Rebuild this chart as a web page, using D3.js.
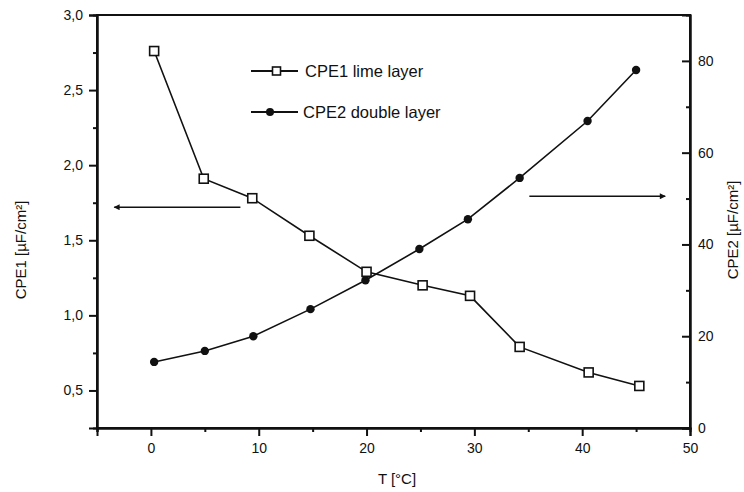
<!DOCTYPE html>
<head>
<style>
  body { margin: 0; background: #fff; }
  svg text { font-family: "Liberation Sans", Arial, sans-serif; fill: #111; }
  .axis path, .axis line { stroke: #111; }
</style>
</head>
<body>
<svg width="744" height="492"></svg>
<script src="https://d3js.org/d3.v7.min.js"></script>
<script>

// values
var tempCPE1 = [0.3, 4.9, 9.4, 14.7, 20.0, 25.2, 29.6, 34.2, 40.6, 45.3];
var cpe1 = [2.76, 1.91, 1.78, 1.53, 1.29, 1.20, 1.13, 0.79, 0.62, 0.53];
var tempCPE2 = [0.3, 5.0, 9.5, 14.8, 19.9, 24.9, 29.4, 34.2, 40.5, 45.0];
var cpe2 = [14.4, 16.8, 20.0, 25.9, 32.2, 39.0, 45.5, 54.5, 66.9, 78.0];

var xTicks = [0, 10, 20, 30, 40, 50];
var xMinor = [-5, 5, 15, 25, 35, 45];
var y1Ticks = [0.5, 1.0, 1.5, 2.0, 2.5, 3.0];
var y1Minor = [0.75, 1.25, 1.75, 2.25, 2.75];
var y2Ticks = [0, 20, 40, 60, 80];
var y2Minor = [10, 30, 50, 70];

var legendLabels = ["CPE1 lime layer", "CPE2 double layer"];

var svg = d3.select("svg");
var plotL = 97, plotR = 690, plotT = 15, plotB = 428;

var x = d3.scaleLinear().domain([-5, 50]).range([plotL, plotR]);
var y1 = d3.scaleLinear().domain([0.25, 3.0]).range([plotB, plotT]);
var y2 = d3.scaleLinear().domain([0, 90]).range([plotB, plotT]);

var comma = function(d) { return d3.format(".1f")(d).replace(".", ","); };

// frame
svg.append("rect")
    .attr("x", plotL).attr("y", plotT)
    .attr("width", plotR - plotL).attr("height", plotB - plotT)
    .attr("fill", "none").attr("stroke", "#111").attr("stroke-width", 2);

// x axis
svg.append("g").attr("class", "axis")
    .attr("transform", "translate(0," + plotB + ")")
    .call(d3.axisBottom(x).tickValues(xTicks).tickSize(8).tickPadding(7));
svg.append("g").attr("class", "axis")
    .attr("transform", "translate(0," + plotB + ")")
    .call(d3.axisBottom(x).tickValues(xMinor).tickSize(4).tickFormat(""));

// left axis
svg.append("g").attr("class", "axis")
    .attr("transform", "translate(" + plotL + ",0)")
    .call(d3.axisLeft(y1).tickValues(y1Ticks).tickSize(8).tickPadding(6).tickFormat(comma));
svg.append("g").attr("class", "axis")
    .attr("transform", "translate(" + plotL + ",0)")
    .call(d3.axisLeft(y1).tickValues(y1Minor).tickSize(4).tickFormat(""));

// right axis, ticks pointing inward
svg.append("g").attr("class", "axis")
    .attr("transform", "translate(" + plotR + ",0)")
    .call(d3.axisRight(y2).tickValues(y2Ticks).tickSize(-8).tickPadding(8));
svg.append("g").attr("class", "axis")
    .attr("transform", "translate(" + plotR + ",0)")
    .call(d3.axisRight(y2).tickValues(y2Minor).tickSize(-4).tickFormat(""));

svg.selectAll(".axis path").attr("stroke-width", 2).attr("stroke", "none");
svg.selectAll(".axis line").attr("stroke-width", 2);
svg.selectAll(".axis text").style("font-size", "14px").style("font-family", "'Liberation Sans', Arial, sans-serif").attr("fill", "#222");

// axis titles
svg.append("text")
    .attr("x", 397).attr("y", 484)
    .attr("text-anchor", "middle")
    .style("font-size", "15px")
    .text("T [°C]");
svg.append("text")
    .attr("transform", "translate(26,250) rotate(-90)")
    .attr("text-anchor", "middle")
    .style("font-size", "15px")
    .text("CPE1 [µF/cm²]");
svg.append("text")
    .attr("transform", "translate(738,230) rotate(-90)")
    .attr("text-anchor", "middle")
    .style("font-size", "15px")
    .text("CPE2 [µF/cm²]");

// data lines
var d1 = tempCPE1.map(function(t, i) { return [t, cpe1[i]]; });
var d2 = tempCPE2.map(function(t, i) { return [t, cpe2[i]]; });

svg.append("path")
    .datum(d2)
    .attr("fill", "none").attr("stroke", "#111").attr("stroke-width", 1.6)
    .attr("d", d3.line().x(function(d) { return x(d[0]); }).y(function(d) { return y2(d[1]); }));
svg.append("g").selectAll("circle")
    .data(d2)
    .enter().append("circle")
      .attr("cx", function(d) { return x(d[0]); })
      .attr("cy", function(d) { return y2(d[1]); })
      .attr("r", 4.2)
      .attr("fill", "#111");

svg.append("path")
    .datum(d1)
    .attr("fill", "none").attr("stroke", "#111").attr("stroke-width", 1.6)
    .attr("d", d3.line().x(function(d) { return x(d[0]); }).y(function(d) { return y1(d[1]); }));
svg.append("g").selectAll("rect")
    .data(d1)
    .enter().append("rect")
      .attr("x", function(d) { return x(d[0]) - 4.5; })
      .attr("y", function(d) { return y1(d[1]) - 4.5; })
      .attr("width", 9).attr("height", 9)
      .attr("fill", "#fff").attr("stroke", "#111").attr("stroke-width", 1.6);

// arrows pointing at the matching axis
svg.append("defs").append("marker")
    .attr("id", "head")
    .attr("viewBox", "0 0 10 10")
    .attr("refX", 9).attr("refY", 5)
    .attr("markerWidth", 10).attr("markerHeight", 6)
    .attr("markerUnits", "userSpaceOnUse")
    .attr("orient", "auto")
  .append("path")
    .attr("d", "M0,0L10,5L0,10Z")
    .attr("fill", "#111");

svg.append("line")
    .attr("x1", x(8.3)).attr("y1", y1(1.72))
    .attr("x2", x(-3.4)).attr("y2", y1(1.72))
    .attr("stroke", "#111").attr("stroke-width", 1.4)
    .attr("marker-end", "url(#head)");
svg.append("line")
    .attr("x1", x(35.1)).attr("y1", y2(50.5))
    .attr("x2", x(47.7)).attr("y2", y2(50.5))
    .attr("stroke", "#111").attr("stroke-width", 1.4)
    .attr("marker-end", "url(#head)");

// legend
var lg = svg.append("g");
lg.append("line").attr("x1", 251).attr("x2", 298).attr("y1", 71).attr("y2", 71)
    .attr("stroke", "#111").attr("stroke-width", 1.8);
lg.append("rect").attr("x", 272.5).attr("y", 67).attr("width", 8).attr("height", 8)
    .attr("fill", "#fff").attr("stroke", "#111").attr("stroke-width", 1.6);
lg.append("text").attr("x", 305).attr("y", 77)
    .style("font-size", "16.5px")
    .text(legendLabels[0]);

lg.append("line").attr("x1", 251).attr("x2", 298).attr("y1", 112).attr("y2", 112)
    .attr("stroke", "#111").attr("stroke-width", 1.8);
lg.append("circle").attr("cx", 270).attr("cy", 112).attr("r", 4)
    .attr("fill", "#111");
lg.append("text").attr("x", 303).attr("y", 118)
    .style("font-size", "16.5px")
    .text(legendLabels[1]);

</script>
</body>
